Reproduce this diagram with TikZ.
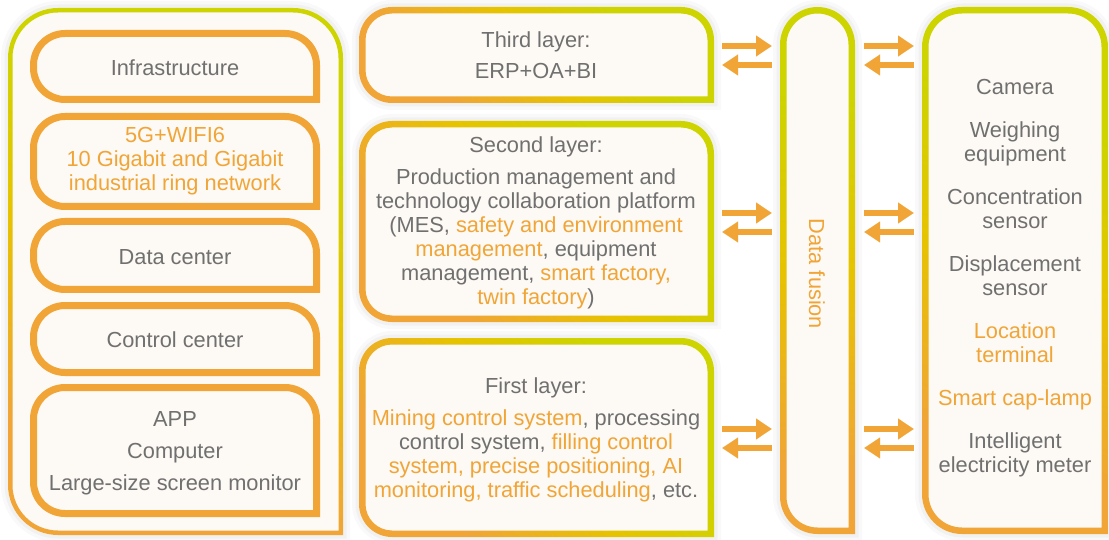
\documentclass[tikz,border=0pt]{standalone}
\usepackage{fontspec}
\setmainfont{Liberation Sans}
\usetikzlibrary{arrows.meta}
\definecolor{og}{RGB}{240,165,54}
\definecolor{yl}{RGB}{230,195,0}
\definecolor{gr}{RGB}{205,212,0}
\definecolor{tx}{RGB}{112,112,112}
\definecolor{cream}{RGB}{253,249,244}
\pgfdeclarehorizontalshading{grad}{100bp}{color(0bp)=(og); color(30bp)=(og); color(50bp)=(yl); color(68bp)=(gr); color(100bp)=(gr)}
% shape: x1 y1 x2 y2 r  (bottom-right corner square)
\newcommand{\shp}[5]{(#3,#4) -- (#3,#2+#5) arc[start angle=0,end angle=90,radius=#5pt] -- (#1+#5,#2) arc[start angle=90,end angle=180,radius=#5pt] -- (#1,#4-#5) arc[start angle=180,end angle=270,radius=#5pt] -- cycle}
\newcommand{\innercalc}[6]{\pgfmathsetmacro\ia{#1+#6}\pgfmathsetmacro\ib{#2+#6}\pgfmathsetmacro\ic{#3-#6}\pgfmathsetmacro\id{#4-#6}\pgfmathsetmacro\ir{#5-#6}}
% x1 y1 x2 y2 r w angle
\newcommand{\gradbox}[7]{%
  \innercalc{#1}{#2}{#3}{#4}{#5}{#6}%
  \draw[black, opacity=0.025, line width=14pt] \shp{#1}{#2}{#3}{#4}{#5};
  \draw[black, opacity=0.03, line width=7pt] \shp{#1}{#2}{#3}{#4}{#5};
  \fill[cream] \shp{#1}{#2}{#3}{#4}{#5};
  \shade[shading=grad, shading angle=#7, even odd rule] \shp{#1}{#2}{#3}{#4}{#5} \shp{\ia}{\ib}{\ic}{\id}{\ir};
}
\newcommand{\orbox}[6]{%
  \innercalc{#1}{#2}{#3}{#4}{#5}{#6}%
  \fill[cream] \shp{#1}{#2}{#3}{#4}{#5};
  \fill[og, even odd rule] \shp{#1}{#2}{#3}{#4}{#5} \shp{\ia}{\ib}{\ic}{\id}{\ir};
}
\newcommand{\hl}[1]{\textcolor{og}{#1}}
\tikzset{
  txt/.style={text=tx, align=center, inner sep=0pt, font=\fontsize{21.8}{24}\selectfont},
  flow/.style={og, line width=5.5pt, -{Triangle[length=16pt,width=20pt]}}
}
\begin{document}
\begin{tikzpicture}[x=1pt,y=-1pt]
\useasboundingbox (0,0) rectangle (1109,540);
\fill[white] (0,0) rectangle (1109,540);

% left column
\gradbox{8}{8}{343}{535}{50}{4.5}{70}
\orbox{30}{30}{320}{103}{35}{7}
\orbox{30}{113}{320}{210}{35}{7}
\orbox{30}{218}{320}{293}{35}{7}
\orbox{30}{302}{320}{376}{35}{7}
\orbox{30}{384}{320}{517}{35}{7}

% middle column
\gradbox{359}{7}{714}{103}{33}{6.5}{40}
\gradbox{359}{121}{714}{322}{33}{6.5}{40}
\gradbox{359}{338}{714}{537}{33}{6.5}{40}

% data fusion
\gradbox{780}{7}{855}{534}{37.5}{6.5}{85}
% devices
\gradbox{922}{7}{1108}{534}{40}{6.5}{70}

% texts
\node[txt] (infra) at (175,68) {Infrastructure};
\node[txt, text=og] (net) at (175,161) {5G+WIFI6\\10 Gigabit and Gigabit\\industrial ring network};
\node[txt] (dc) at (175,257) {Data center};
\node[txt] (cc) at (175,340) {Control center};
\node[txt, font=\fontsize{21.8}{32}\selectfont] (app) at (175,453) {APP\\Computer\\Large-size screen monitor};

\node[txt, font=\fontsize{21.8}{31}\selectfont] (l3) at (536,55) {Third layer:\\ERP+OA+BI};
\node[txt] (l2) at (536,223) {Second layer:\\[8pt]Production management and\\technology collaboration platform\\(MES, \hl{safety and environment}\\\hl{management}, equipment\\management, \hl{smart factory,}\\\hl{twin factory})};
\node[txt] (l1) at (536,440) {First layer:\\[8pt]\hl{Mining control system}, processing\\control system, \hl{filling control}\\\hl{system, precise positioning, AI}\\\hl{monitoring, traffic scheduling}, etc.};

\node[txt, text=og, rotate=-90] (fusion) at (817,274) {Data fusion};

\node[txt] (dev) at (1015,278) {Camera\\[19pt]Weighing\\equipment\\[19pt]Concentration\\sensor\\[19pt]Displacement\\sensor\\[19pt]\hl{Location}\\\hl{terminal}\\[19pt]\hl{Smart cap-lamp}\\[19pt]Intelligent\\electricity meter};

% arrow end coordinates
\coordinate (p1a) at (722,46);  \coordinate (p1b) at (772,46);
\coordinate (q1a) at (722,65);  \coordinate (q1b) at (772,65);
\coordinate (p2a) at (722,213); \coordinate (p2b) at (772,213);
\coordinate (q2a) at (722,232); \coordinate (q2b) at (772,232);
\coordinate (p3a) at (722,429); \coordinate (p3b) at (772,429);
\coordinate (q3a) at (722,448); \coordinate (q3b) at (772,448);
\coordinate (r1a) at (864,46);  \coordinate (r1b) at (914,46);
\coordinate (s1a) at (864,65);  \coordinate (s1b) at (914,65);
\coordinate (r2a) at (864,213); \coordinate (r2b) at (914,213);
\coordinate (s2a) at (864,232); \coordinate (s2b) at (914,232);
\coordinate (r3a) at (864,429); \coordinate (r3b) at (914,429);
\coordinate (s3a) at (864,448); \coordinate (s3b) at (914,448);

\foreach \k in {1,2,3}{
  \draw[flow] (p\k a) -- (p\k b);
  \draw[flow] (q\k b) -- (q\k a);
  \draw[flow] (r\k a) -- (r\k b);
  \draw[flow] (s\k b) -- (s\k a);
}
\end{tikzpicture}
\end{document}
